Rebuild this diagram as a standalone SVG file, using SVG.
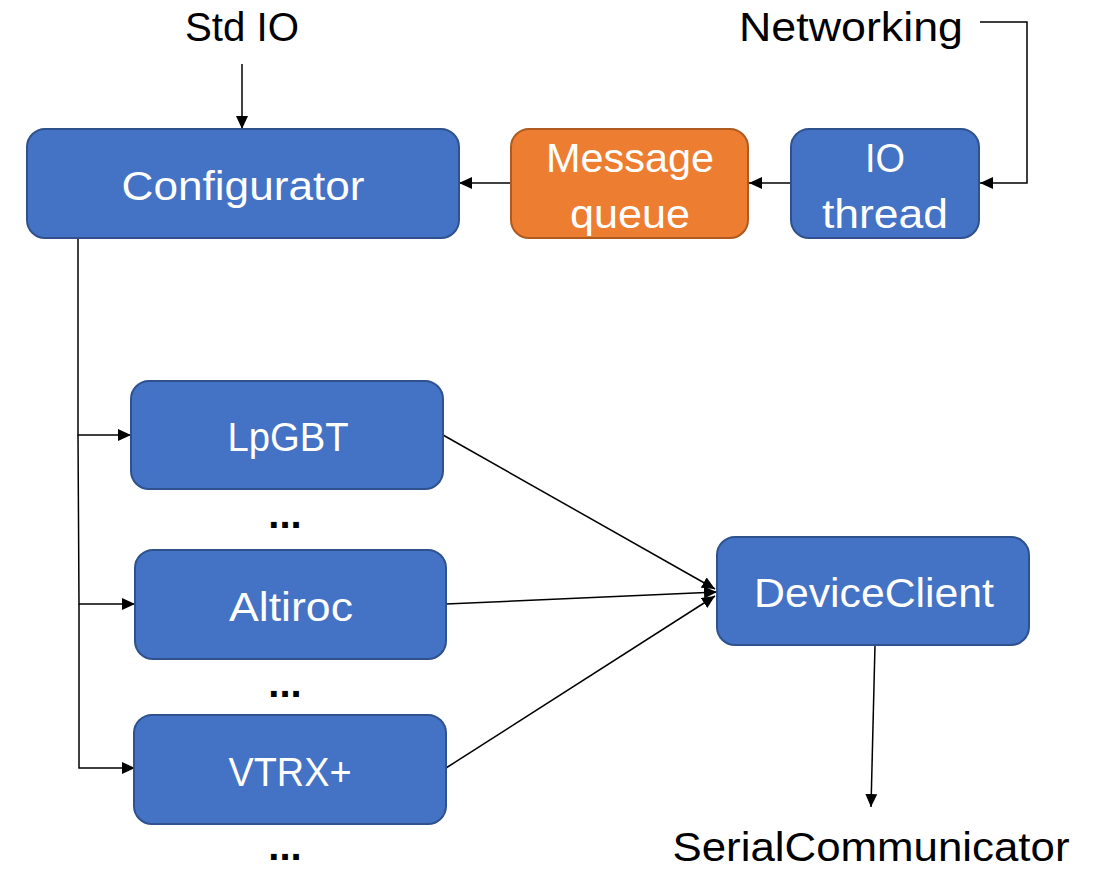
<svg xmlns="http://www.w3.org/2000/svg" width="1094" height="870" viewBox="0 0 1094 870">
  <style>
    .box { fill: #4472C4; stroke: #2F528F; stroke-width: 2; }
    .queue { fill: #ED7D31; stroke: #AE5A21; stroke-width: 2; }
    .lbl { font-family: "Liberation Sans", Arial, sans-serif; font-size: 40px; fill: #FFFFFF; text-anchor: middle; }
    .ext { font-family: "Liberation Sans", Arial, sans-serif; font-size: 40px; fill: #000000; text-anchor: middle; }
    .dots { font-family: "Liberation Sans", Arial, sans-serif; font-size: 40px; font-weight: bold; fill: #000000; text-anchor: middle; }
    .wire { fill: none; stroke: #000000; stroke-width: 1.5; }
  </style>
  <defs>
    <marker id="arrow" markerUnits="userSpaceOnUse" markerWidth="14" markerHeight="12" refX="13" refY="6" orient="auto">
      <path d="M0,0 L13,6 L0,12 Z" fill="#000000"/>
    </marker>
  </defs>

  <rect width="1094" height="870" fill="#FFFFFF"/>

  <!-- free-standing labels -->
  <text class="ext" x="242" y="41" textLength="114" lengthAdjust="spacingAndGlyphs">Std IO</text>
  <text class="ext" x="851" y="41" textLength="224" lengthAdjust="spacingAndGlyphs">Networking</text>
  <text class="ext" x="871" y="861" textLength="397" lengthAdjust="spacingAndGlyphs">SerialCommunicator</text>
  <text class="dots" x="285" y="528">...</text>
  <text class="dots" x="285" y="697">...</text>
  <text class="dots" x="285" y="860">...</text>

  <!-- connectors -->
  <g id="connectors">
    <line class="wire" x1="242" y1="64" x2="242" y2="129" marker-end="url(#arrow)"/>
    <polyline class="wire" points="980,22 1027,22 1027,183 980,183" marker-end="url(#arrow)"/>
    <line class="wire" x1="791" y1="183" x2="749" y2="183" marker-end="url(#arrow)"/>
    <line class="wire" x1="511" y1="183" x2="459" y2="183" marker-end="url(#arrow)"/>
    <polyline class="wire" points="78,238 78,435 131,435" marker-end="url(#arrow)"/>
    <polyline class="wire" points="78,435 79,604 135,604" marker-end="url(#arrow)"/>
    <polyline class="wire" points="79,604 79,768 135,768" marker-end="url(#arrow)"/>
    <line class="wire" x1="443" y1="435" x2="715" y2="589" marker-end="url(#arrow)"/>
    <line class="wire" x1="446" y1="604" x2="717" y2="592" marker-end="url(#arrow)"/>
    <line class="wire" x1="446" y1="768" x2="715" y2="596" marker-end="url(#arrow)"/>
    <line class="wire" x1="875" y1="645" x2="871" y2="807" marker-end="url(#arrow)"/>
  </g>

  <!-- nodes -->
  <g id="configurator">
    <rect class="box" x="27" y="129" width="432" height="109" rx="18"/>
    <text class="lbl" x="243" y="200" textLength="243" lengthAdjust="spacingAndGlyphs">Configurator</text>
  </g>
  <g id="message-queue">
    <rect class="queue" x="511" y="129" width="237" height="109" rx="18"/>
    <text class="lbl" x="630" y="172" textLength="168" lengthAdjust="spacingAndGlyphs">Message</text>
    <text class="lbl" x="630" y="228" textLength="120" lengthAdjust="spacingAndGlyphs">queue</text>
  </g>
  <g id="io-thread">
    <rect class="box" x="791" y="129" width="188" height="109" rx="18"/>
    <text class="lbl" x="885" y="172" textLength="40" lengthAdjust="spacingAndGlyphs">IO</text>
    <text class="lbl" x="885" y="228" textLength="126" lengthAdjust="spacingAndGlyphs">thread</text>
  </g>
  <g id="lpgbt">
    <rect class="box" x="131" y="381" width="312" height="108" rx="18"/>
    <text class="lbl" x="288" y="451" textLength="121" lengthAdjust="spacingAndGlyphs">LpGBT</text>
  </g>
  <g id="altiroc">
    <rect class="box" x="135" y="550" width="311" height="109" rx="18"/>
    <text class="lbl" x="291" y="621" textLength="124" lengthAdjust="spacingAndGlyphs">Altiroc</text>
  </g>
  <g id="vtrx">
    <rect class="box" x="134" y="715" width="312" height="109" rx="18"/>
    <text class="lbl" x="290" y="786" textLength="123" lengthAdjust="spacingAndGlyphs">VTRX+</text>
  </g>
  <g id="device-client">
    <rect class="box" x="717" y="537" width="312" height="108" rx="18"/>
    <text class="lbl" x="874" y="607" textLength="240" lengthAdjust="spacingAndGlyphs">DeviceClient</text>
  </g>
</svg>
